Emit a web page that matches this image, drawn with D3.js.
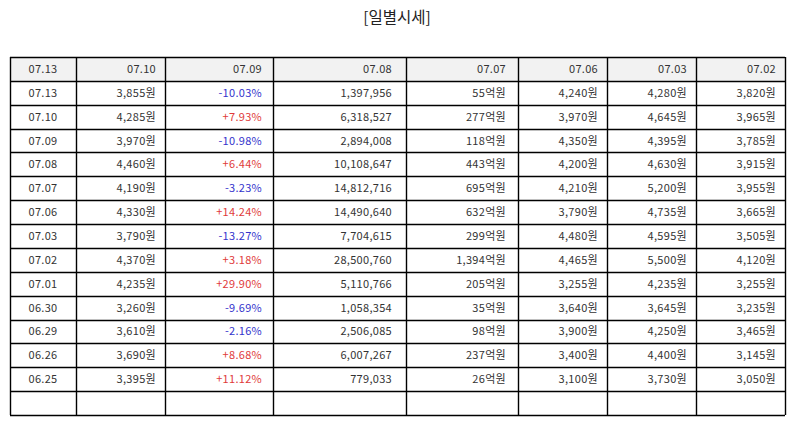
<!DOCTYPE html>
<html>
<head>
<meta charset="utf-8">
<script src="https://cdn.jsdelivr.net/npm/d3@7/dist/d3.min.js"></script>
<style>
  body { margin: 0; background: #fff; }
  svg { display: block; font-family: "Noto Sans CJK KR", "Noto Sans", sans-serif; }
</style>
</head>
<body>
<svg id="chart"></svg>
<script>
// data
const headerLabels = ["07.13", "07.10", "07.09", "07.08", "07.07", "07.06", "07.03", "07.02"]
const dates = ["07.13", "07.10", "07.09", "07.08", "07.07", "07.06", "07.03", "07.02", "07.01", "06.30", "06.29", "06.26", "06.25"]
const closePrice = [3855, 4285, 3970, 4460, 4190, 4330, 3790, 4370, 4235, 3260, 3610, 3690, 3395]
const changePct = [-10.03, 7.93, -10.98, 6.44, -3.23, 14.24, -13.27, 3.18, 29.90, -9.69, -2.16, 8.68, 11.12]
const volume = [1397956, 6318527, 2894008, 10108647, 14812716, 14490640, 7704615, 28500760, 5110766, 1058354, 2506085, 6007267, 779033]
const amount = [55, 277, 118, 443, 695, 632, 299, 1394, 205, 35, 98, 237, 26]
const openPrice = [4240, 3970, 4350, 4200, 4210, 3790, 4480, 4465, 3255, 3640, 3900, 3400, 3100]
const highPrice = [4280, 4645, 4395, 4630, 5200, 4735, 4595, 5500, 4235, 3645, 4250, 4400, 3730]
const lowPrice = [3820, 3965, 3785, 3915, 3955, 3665, 3505, 4120, 3255, 3235, 3465, 3145, 3050]

const width = 794, height = 425
const margin = { top: 57, right: 9, bottom: 10, left: 10 }
const colWeights = [66, 89, 108, 133, 112, 89, 89, 89]

const fmt = d3.format(",")
const won = v => fmt(v) + "원"
const rows = dates.map((d, i) => [
    { t: d },
    { t: won(closePrice[i]) },
    { t: (changePct[i] > 0 ? "+" : "") + changePct[i].toFixed(2) + "%", c: changePct[i] > 0 ? "#e03a3a" : "#3333cc" },
    { t: fmt(volume[i]) },
    { t: fmt(amount[i]) + "억원" },
    { t: won(openPrice[i]) },
    { t: won(highPrice[i]) },
    { t: won(lowPrice[i]) }
])
rows.push(colWeights.map(() => ({ t: "" }))) // trailing empty row

const svg = d3.select("#chart").attr("width", width).attr("height", height)

svg.append("text")
    .attr("x", width / 2)
    .attr("y", 23)
    .attr("text-anchor", "middle")
    .style("font-size", "15.5px")
    .style("fill", "#222")
    .text("[일별시세]")

const cum = [0].concat(Array.from(d3.cumsum(colWeights)))
const x = d3.scaleLinear()
    .domain([0, d3.sum(colWeights)])
    .range([margin.left, width - margin.right])

const allRows = [headerLabels.map(t => ({ t }))].concat(rows)
const y = d3.scaleBand()
    .domain(d3.range(allRows.length))
    .range([margin.top, height - margin.bottom])

const g = svg.append("g")

// header background
g.append("rect")
    .attr("x", x(0)).attr("y", y(0))
    .attr("width", x(cum[cum.length - 1]) - x(0))
    .attr("height", y.bandwidth())
    .style("fill", "#f2f2f2")

// right padding grows a bit with column width
const pad = ci => Math.round(colWeights[ci] * 0.105)

allRows.forEach((r, ri) => {
    g.append("g").selectAll("text")
        .data(r)
        .join("text")
        .attr("x", (d, ci) => ci === 0 ? (x(cum[ci]) + x(cum[ci + 1])) / 2 : x(cum[ci + 1]) - pad(ci))
        .attr("y", y(ri) + y.bandwidth() / 2 + 4)
        .attr("text-anchor", (d, ci) => ci === 0 ? "middle" : "end")
        .style("font-size", "11px")
        .style("letter-spacing", "0.3px")
        .style("fill", d => d.c || "#333")
        .text(d => d.t)
})

// grid lines
g.append("g").selectAll("line")
    .data(d3.range(allRows.length + 1))
    .join("line")
    .attr("x1", x(0)).attr("x2", x(cum[cum.length - 1]))
    .attr("y1", i => Math.round(y(0) + i * y.step()) + 0.5)
    .attr("y2", i => Math.round(y(0) + i * y.step()) + 0.5)
    .style("stroke", "#000").style("stroke-width", 1.4)

g.append("g").selectAll("line")
    .data(cum)
    .join("line")
    .attr("x1", c => Math.round(x(c)) + 0.5).attr("x2", c => Math.round(x(c)) + 0.5)
    .attr("y1", y(0)).attr("y2", y(0) + allRows.length * y.step())
    .style("stroke", "#000").style("stroke-width", 1.4)
</script>
</body>
</html>
